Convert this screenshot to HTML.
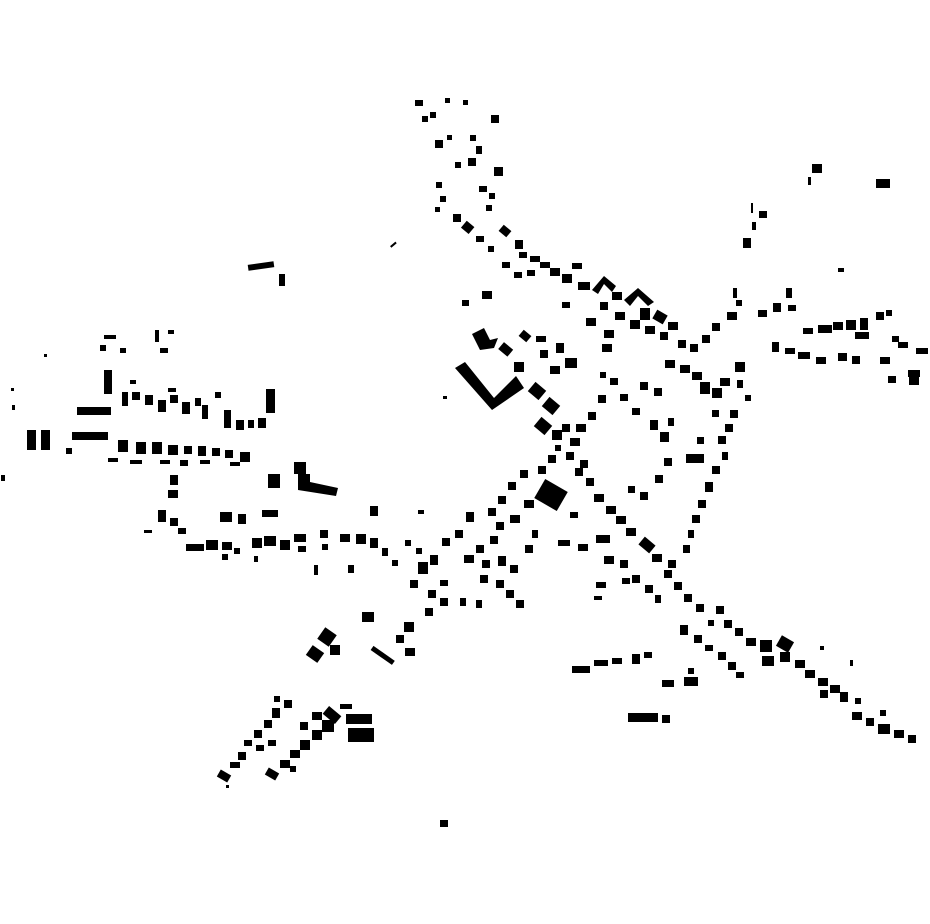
<!DOCTYPE html>
<html><head><meta charset="utf-8"><style>html,body{margin:0;padding:0;background:#fff}svg{display:block}</style></head>
<body>
<svg width="930" height="924" viewBox="0 0 930 924" xmlns="http://www.w3.org/2000/svg">
<rect width="930" height="924" fill="#fff"/>
<g fill="#000">
<!-- north cluster -->
<rect x="415" y="100" width="8" height="6"/><rect x="430" y="112" width="6" height="6"/><rect x="445" y="98" width="5" height="5"/><rect x="463" y="100" width="5" height="5"/><rect x="491" y="115" width="8" height="8"/><rect x="422" y="116" width="6" height="6"/><rect x="435" y="140" width="8" height="8"/><rect x="447" y="135" width="5" height="5"/><rect x="470" y="135" width="6" height="6"/><rect x="476" y="146" width="6" height="8"/><rect x="468" y="158" width="8" height="8"/><rect x="455" y="162" width="6" height="6"/><rect x="494" y="167" width="9" height="9"/><rect x="436" y="182" width="6" height="6"/><rect x="479" y="186" width="8" height="6"/><rect x="440" y="196" width="6" height="6"/><rect x="489" y="193" width="6" height="6"/><rect x="486" y="205" width="6" height="6"/><rect x="435" y="207" width="5" height="5"/><rect x="453" y="214" width="8" height="8"/>
<rect x="463" y="223" width="10" height="9" transform="rotate(40 468 227)"/><rect x="476" y="236" width="8" height="6"/><rect x="488" y="246" width="6" height="6"/><rect x="500" y="227" width="10" height="8" transform="rotate(40 505 231)"/><rect x="502" y="262" width="8" height="6"/><rect x="515" y="240" width="8" height="9"/><rect x="519" y="252" width="8" height="6"/><rect x="530" y="256" width="10" height="6"/><rect x="527" y="270" width="8" height="6"/><rect x="514" y="272" width="8" height="6"/><rect x="540" y="262" width="10" height="6"/><rect x="550" y="268" width="10" height="8"/><rect x="562" y="274" width="10" height="9"/><rect x="572" y="263" width="10" height="6"/><rect x="578" y="282" width="12" height="8"/>
<path d="M592 290 L604 276 L616 286 L612 292 L604 284 L598 294Z"/><path d="M624 300 L638 288 L654 302 L648 306 L638 296 L630 306Z"/>
<rect x="612" y="292" width="10" height="8"/><rect x="640" y="308" width="10" height="12"/><rect x="654" y="312" width="12" height="10" transform="rotate(30 660 317)"/><rect x="668" y="322" width="10" height="8"/><rect x="600" y="302" width="8" height="8"/><rect x="615" y="312" width="10" height="8"/><rect x="630" y="320" width="10" height="9"/><rect x="645" y="326" width="10" height="8"/><rect x="660" y="332" width="8" height="8"/><rect x="586" y="318" width="10" height="8"/><rect x="604" y="330" width="10" height="8"/><rect x="602" y="344" width="10" height="8"/><rect x="562" y="302" width="8" height="6"/><rect x="462" y="300" width="7" height="6"/><rect x="482" y="291" width="10" height="8"/><rect x="390" y="244" width="7" height="2" transform="rotate(-40 393 245)"/>
<!-- NE -->
<rect x="678" y="340" width="8" height="8"/><rect x="690" y="344" width="8" height="8"/><rect x="702" y="335" width="8" height="8"/><rect x="712" y="323" width="8" height="8"/><rect x="727" y="312" width="10" height="8"/><rect x="736" y="300" width="6" height="6"/><rect x="733" y="288" width="4" height="10"/><rect x="743" y="238" width="8" height="10"/><rect x="752" y="222" width="4" height="8"/><rect x="759" y="211" width="8" height="7"/><rect x="751" y="203" width="2" height="10"/><rect x="812" y="164" width="10" height="9"/><rect x="808" y="177" width="3" height="8"/><rect x="876" y="179" width="14" height="9"/><rect x="838" y="268" width="6" height="4"/><rect x="786" y="288" width="6" height="10"/>
<rect x="758" y="310" width="9" height="7"/><rect x="773" y="303" width="8" height="9"/><rect x="788" y="305" width="8" height="6"/><rect x="803" y="328" width="10" height="6"/><rect x="818" y="325" width="14" height="8"/><rect x="833" y="322" width="10" height="8"/><rect x="846" y="320" width="10" height="10"/><rect x="860" y="318" width="8" height="12"/><rect x="876" y="312" width="8" height="8"/><rect x="886" y="310" width="6" height="6"/><rect x="855" y="332" width="14" height="7"/><rect x="892" y="336" width="7" height="6"/><rect x="898" y="342" width="10" height="6"/><rect x="916" y="348" width="12" height="6"/>
<rect x="772" y="342" width="7" height="10"/><rect x="785" y="348" width="10" height="6"/><rect x="798" y="352" width="12" height="7"/><rect x="816" y="357" width="10" height="7"/><rect x="838" y="353" width="9" height="8"/><rect x="852" y="356" width="8" height="8"/><rect x="880" y="357" width="10" height="7"/><rect x="908" y="370" width="12" height="7"/><rect x="888" y="376" width="8" height="7"/><rect x="909" y="377" width="10" height="8"/>
<!-- column -->
<rect x="665" y="360" width="10" height="8"/><rect x="680" y="365" width="10" height="8"/><rect x="692" y="372" width="10" height="8"/><rect x="700" y="382" width="10" height="12"/><rect x="712" y="388" width="10" height="10"/><rect x="720" y="378" width="10" height="8"/><rect x="735" y="362" width="10" height="10"/><rect x="737" y="380" width="6" height="8"/><rect x="745" y="395" width="6" height="6"/><rect x="730" y="410" width="8" height="8"/><rect x="725" y="424" width="8" height="8"/><rect x="718" y="436" width="8" height="8"/><rect x="722" y="452" width="6" height="8"/><rect x="686" y="454" width="18" height="9"/><rect x="712" y="466" width="8" height="8"/><rect x="705" y="482" width="8" height="10"/><rect x="698" y="500" width="8" height="8"/><rect x="692" y="515" width="8" height="8"/><rect x="688" y="530" width="6" height="8"/><rect x="683" y="545" width="7" height="8"/><rect x="668" y="560" width="8" height="8"/><rect x="697" y="437" width="7" height="7"/><rect x="712" y="410" width="7" height="7"/>
<!-- inner ring -->
<rect x="610" y="378" width="8" height="7"/><rect x="620" y="394" width="8" height="7"/><rect x="632" y="408" width="8" height="7"/><rect x="640" y="382" width="8" height="8"/><rect x="654" y="388" width="8" height="8"/><rect x="650" y="420" width="8" height="10"/><rect x="660" y="432" width="9" height="10"/><rect x="668" y="418" width="6" height="8"/><rect x="664" y="458" width="8" height="8"/><rect x="655" y="475" width="8" height="8"/><rect x="640" y="492" width="8" height="8"/><rect x="628" y="486" width="7" height="7"/><rect x="598" y="395" width="8" height="8"/><rect x="588" y="412" width="8" height="8"/>
<!-- center -->
<path d="M455 368 L465 362 L494 398 L516 376 L524 388 L492 410Z"/>
<path d="M472 334 L484 328 L490 340 L498 338 L494 348 L480 350Z"/>
<rect x="500" y="345" width="12" height="9" transform="rotate(40 506 349)"/><rect x="520" y="332" width="10" height="8" transform="rotate(40 525 336)"/><rect x="536" y="336" width="10" height="6"/><rect x="540" y="350" width="8" height="8"/><rect x="556" y="343" width="8" height="10"/><rect x="565" y="358" width="12" height="10"/><rect x="550" y="366" width="10" height="8"/><rect x="514" y="362" width="10" height="10"/>
<rect x="530" y="385" width="14" height="12" transform="rotate(40 537 391)"/><rect x="544" y="400" width="14" height="12" transform="rotate(40 551 406)"/><rect x="536" y="420" width="14" height="12" transform="rotate(40 543 426)"/><rect x="552" y="430" width="10" height="10"/><rect x="562" y="424" width="8" height="8"/><rect x="570" y="438" width="10" height="8"/><rect x="576" y="424" width="10" height="8"/><rect x="566" y="452" width="8" height="8"/><rect x="555" y="445" width="6" height="6"/><rect x="580" y="460" width="8" height="8"/><rect x="600" y="372" width="6" height="6"/>
<!-- central diagonal -->
<rect x="548" y="455" width="8" height="8"/><rect x="538" y="466" width="8" height="8"/><rect x="520" y="470" width="8" height="8"/><rect x="508" y="482" width="8" height="8"/><rect x="498" y="496" width="8" height="8"/><rect x="488" y="508" width="8" height="8"/><rect x="466" y="512" width="8" height="10"/><rect x="455" y="530" width="8" height="8"/><rect x="442" y="538" width="8" height="8"/><rect x="430" y="555" width="8" height="10"/><rect x="418" y="562" width="10" height="12"/><rect x="410" y="580" width="8" height="8"/><rect x="428" y="590" width="8" height="8"/><rect x="440" y="598" width="8" height="8"/><rect x="425" y="608" width="8" height="8"/><rect x="404" y="622" width="10" height="10"/><rect x="396" y="635" width="8" height="8"/><rect x="405" y="648" width="10" height="8"/><rect x="370" y="653" width="26" height="5" transform="rotate(35 383 655)"/><rect x="362" y="612" width="12" height="10"/><rect x="320" y="630" width="14" height="14" transform="rotate(35 327 637)"/><rect x="330" y="645" width="10" height="10"/><rect x="308" y="648" width="14" height="12" transform="rotate(35 315 654)"/>
<rect x="538" y="484" width="26" height="22" transform="rotate(30 551 495)"/><rect x="524" y="500" width="10" height="8"/><rect x="510" y="515" width="10" height="8"/><rect x="496" y="522" width="8" height="8"/><rect x="490" y="536" width="8" height="8"/><rect x="476" y="545" width="8" height="8"/><rect x="464" y="555" width="10" height="8"/><rect x="482" y="560" width="8" height="8"/><rect x="498" y="556" width="8" height="10"/><rect x="510" y="565" width="8" height="8"/><rect x="480" y="575" width="8" height="8"/><rect x="496" y="580" width="8" height="8"/><rect x="506" y="590" width="8" height="8"/><rect x="516" y="600" width="8" height="8"/><rect x="476" y="600" width="6" height="8"/><rect x="460" y="598" width="6" height="8"/><rect x="525" y="545" width="8" height="8"/><rect x="532" y="530" width="6" height="8"/><rect x="440" y="580" width="8" height="6"/><rect x="416" y="548" width="6" height="6"/><rect x="405" y="540" width="6" height="6"/><rect x="418" y="510" width="6" height="4"/>
<!-- SE diagonal -->
<rect x="575" y="468" width="8" height="8"/><rect x="586" y="478" width="8" height="8"/><rect x="594" y="494" width="10" height="8"/><rect x="606" y="506" width="10" height="8"/><rect x="616" y="516" width="10" height="8"/><rect x="626" y="528" width="10" height="8"/><rect x="640" y="540" width="14" height="10" transform="rotate(40 647 545)"/><rect x="652" y="554" width="10" height="8"/><rect x="570" y="512" width="8" height="6"/><rect x="558" y="540" width="12" height="6"/><rect x="578" y="544" width="10" height="7"/><rect x="596" y="535" width="14" height="8"/><rect x="604" y="556" width="10" height="8"/><rect x="620" y="560" width="8" height="8"/><rect x="632" y="575" width="8" height="8"/><rect x="645" y="585" width="8" height="8"/><rect x="655" y="595" width="6" height="8"/><rect x="596" y="582" width="10" height="6"/><rect x="594" y="596" width="8" height="4"/><rect x="622" y="578" width="8" height="6"/>
<rect x="664" y="570" width="8" height="8"/><rect x="674" y="582" width="8" height="8"/><rect x="684" y="594" width="8" height="8"/><rect x="696" y="604" width="8" height="8"/><rect x="716" y="606" width="8" height="8"/><rect x="724" y="620" width="8" height="8"/><rect x="735" y="628" width="8" height="8"/><rect x="746" y="638" width="10" height="8"/><rect x="760" y="640" width="12" height="12"/><rect x="778" y="638" width="14" height="12" transform="rotate(30 785 644)"/><rect x="780" y="652" width="10" height="10"/><rect x="762" y="656" width="12" height="10"/><rect x="795" y="660" width="10" height="8"/><rect x="805" y="670" width="10" height="8"/><rect x="818" y="678" width="10" height="8"/><rect x="830" y="685" width="10" height="8"/><rect x="840" y="692" width="8" height="10"/><rect x="820" y="690" width="8" height="8"/><rect x="852" y="712" width="10" height="8"/><rect x="866" y="718" width="8" height="8"/><rect x="878" y="724" width="12" height="10"/><rect x="894" y="730" width="10" height="8"/><rect x="908" y="735" width="8" height="8"/><rect x="855" y="698" width="6" height="6"/><rect x="880" y="710" width="6" height="6"/><rect x="820" y="646" width="4" height="4"/><rect x="850" y="660" width="3" height="6"/>
<rect x="680" y="625" width="8" height="10"/><rect x="694" y="635" width="8" height="8"/><rect x="705" y="645" width="8" height="6"/><rect x="718" y="652" width="8" height="8"/><rect x="728" y="662" width="8" height="8"/><rect x="736" y="672" width="8" height="6"/><rect x="708" y="620" width="6" height="6"/>
<rect x="572" y="666" width="18" height="7"/><rect x="594" y="660" width="14" height="6"/><rect x="612" y="658" width="10" height="6"/><rect x="632" y="654" width="8" height="10"/><rect x="644" y="652" width="8" height="6"/><rect x="662" y="680" width="12" height="7"/><rect x="684" y="677" width="14" height="9"/><rect x="688" y="668" width="6" height="6"/><rect x="628" y="713" width="30" height="9"/><rect x="662" y="715" width="8" height="8"/><rect x="440" y="820" width="8" height="7"/><rect x="443" y="396" width="4" height="3"/>
<!-- west -->
<rect x="248" y="263" width="26" height="6" transform="rotate(-8 261 266)"/><rect x="279" y="274" width="6" height="12"/><rect x="104" y="335" width="12" height="4"/><rect x="100" y="345" width="6" height="6"/><rect x="120" y="348" width="6" height="5"/><rect x="155" y="330" width="4" height="12"/><rect x="160" y="348" width="8" height="5"/><rect x="168" y="330" width="6" height="4"/><rect x="104" y="370" width="8" height="24"/><rect x="77" y="407" width="34" height="8"/><rect x="72" y="432" width="36" height="8"/><rect x="27" y="430" width="9" height="20"/><rect x="41" y="430" width="9" height="20"/><rect x="266" y="389" width="9" height="24"/><rect x="11" y="388" width="3" height="3"/><rect x="44" y="354" width="3" height="3"/><rect x="1" y="475" width="4" height="6"/><rect x="12" y="405" width="3" height="5"/>
<rect x="122" y="392" width="6" height="14"/><rect x="132" y="392" width="8" height="8"/><rect x="145" y="395" width="8" height="10"/><rect x="158" y="400" width="8" height="12"/><rect x="170" y="395" width="8" height="8"/><rect x="182" y="402" width="8" height="12"/><rect x="195" y="398" width="6" height="8"/><rect x="202" y="405" width="6" height="14"/><rect x="215" y="392" width="6" height="6"/><rect x="224" y="410" width="7" height="18"/><rect x="236" y="420" width="8" height="10"/><rect x="248" y="420" width="6" height="8"/><rect x="258" y="418" width="8" height="10"/><rect x="130" y="380" width="6" height="4"/><rect x="168" y="388" width="8" height="4"/>
<rect x="118" y="440" width="10" height="12"/><rect x="136" y="442" width="10" height="12"/><rect x="152" y="442" width="10" height="12"/><rect x="168" y="445" width="10" height="10"/><rect x="184" y="446" width="8" height="8"/><rect x="198" y="446" width="8" height="10"/><rect x="212" y="448" width="8" height="8"/><rect x="225" y="450" width="8" height="8"/><rect x="240" y="452" width="10" height="10"/><rect x="108" y="458" width="10" height="4"/><rect x="130" y="460" width="12" height="4"/><rect x="160" y="460" width="10" height="4"/><rect x="180" y="460" width="8" height="6"/><rect x="200" y="460" width="10" height="4"/><rect x="230" y="462" width="10" height="4"/><rect x="66" y="448" width="6" height="6"/>
<rect x="294" y="462" width="12" height="12"/><rect x="268" y="474" width="12" height="14"/><path d="M298 474 L310 474 L310 482 L338 488 L336 496 L298 490Z"/><rect x="262" y="510" width="16" height="7"/><rect x="170" y="475" width="8" height="10"/><rect x="168" y="490" width="10" height="8"/><rect x="158" y="510" width="8" height="12"/><rect x="170" y="518" width="8" height="8"/><rect x="178" y="528" width="8" height="6"/><rect x="220" y="512" width="12" height="10"/><rect x="238" y="514" width="8" height="10"/><rect x="144" y="530" width="8" height="3"/><rect x="370" y="506" width="8" height="10"/>
<rect x="186" y="544" width="18" height="7"/><rect x="206" y="540" width="12" height="10"/><rect x="222" y="542" width="10" height="8"/><rect x="234" y="548" width="6" height="6"/><rect x="252" y="538" width="10" height="10"/><rect x="264" y="536" width="12" height="10"/><rect x="280" y="540" width="10" height="10"/><rect x="294" y="534" width="12" height="8"/><rect x="298" y="546" width="8" height="6"/><rect x="320" y="530" width="8" height="8"/><rect x="322" y="544" width="6" height="6"/><rect x="340" y="534" width="10" height="8"/><rect x="356" y="534" width="10" height="10"/><rect x="370" y="538" width="8" height="10"/><rect x="382" y="548" width="6" height="8"/><rect x="392" y="560" width="6" height="6"/><rect x="314" y="565" width="4" height="10"/><rect x="348" y="565" width="6" height="8"/><rect x="254" y="556" width="4" height="6"/><rect x="222" y="554" width="6" height="6"/>
<!-- SW -->
<rect x="218" y="772" width="12" height="8" transform="rotate(30 224 776)"/><rect x="230" y="762" width="10" height="6"/><rect x="238" y="752" width="8" height="8"/><rect x="244" y="740" width="8" height="6"/><rect x="254" y="730" width="8" height="8"/><rect x="264" y="720" width="8" height="8"/><rect x="272" y="708" width="8" height="10"/><rect x="284" y="700" width="8" height="8"/><rect x="274" y="696" width="6" height="6"/><rect x="256" y="745" width="8" height="6"/><rect x="268" y="740" width="8" height="6"/><rect x="266" y="770" width="12" height="8" transform="rotate(30 272 774)"/><rect x="280" y="760" width="10" height="8"/><rect x="290" y="750" width="10" height="8"/><rect x="300" y="740" width="10" height="10"/><rect x="312" y="730" width="10" height="10"/><rect x="322" y="720" width="12" height="12"/><rect x="300" y="722" width="8" height="8"/><rect x="312" y="712" width="10" height="8"/><rect x="324" y="710" width="16" height="10" transform="rotate(40 332 715)"/><rect x="346" y="714" width="26" height="10"/><rect x="348" y="728" width="26" height="14"/><rect x="340" y="704" width="12" height="5"/><rect x="290" y="766" width="6" height="6"/><rect x="226" y="785" width="3" height="3"/>
</g>
</svg>
</body></html>
